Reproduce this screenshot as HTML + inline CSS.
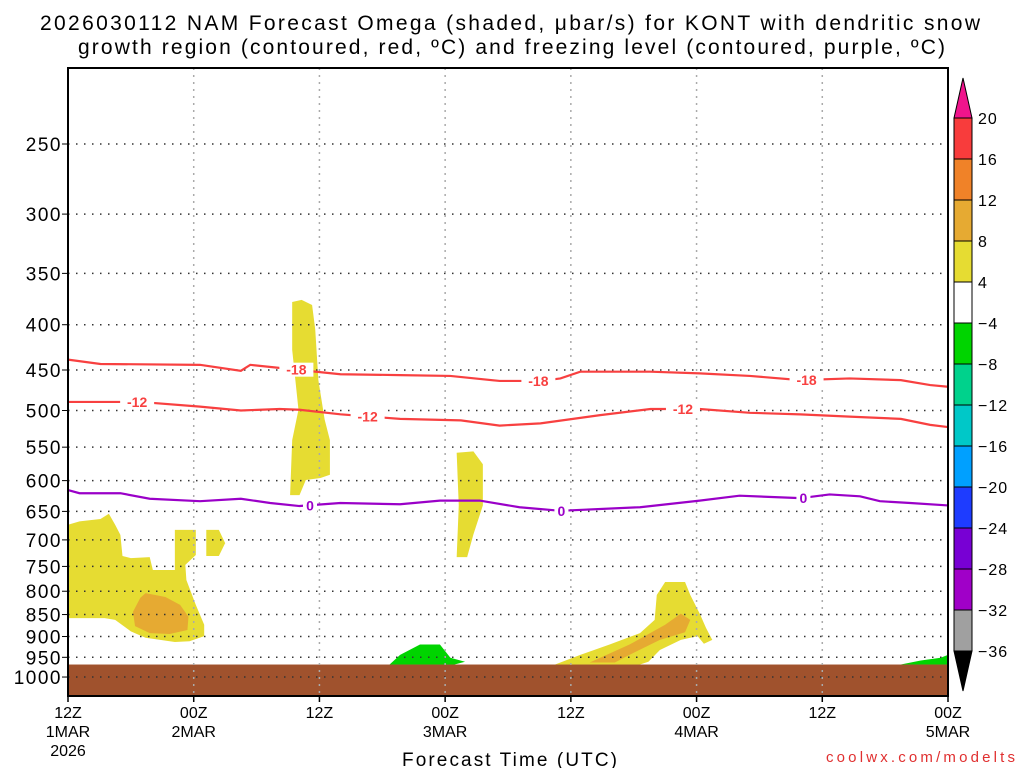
<!DOCTYPE html>
<html><head><meta charset="utf-8"><style>
body{margin:0;background:#fff;width:1024px;height:768px;overflow:hidden}
svg text{font-family:"Liberation Sans",sans-serif}
</style></head><body>
<svg id="chart" width="1024" height="768" xmlns="http://www.w3.org/2000/svg">
<text x="40" y="30" font-size="21" textLength="940" lengthAdjust="spacing">2026030112 NAM Forecast Omega (shaded, μbar/s) for KONT with dendritic snow</text>
<text x="78" y="54" font-size="21" textLength="867" lengthAdjust="spacing">growth region (contoured, red, ºC) and freezing level (contoured, purple, ºC)</text>
<g id="shades"></g><g id="grid"></g><g id="lines"></g><g id="axes"></g><g id="cbar"></g>
<text x="402" y="766" font-size="19" textLength="215" lengthAdjust="spacing">Forecast Time (UTC)</text>
<text x="826" y="762" font-size="15" fill="#e03030" textLength="189" lengthAdjust="spacing">coolwx.com/modelts</text>
</svg>
<script>
const pTicks=[250,300,350,400,450,500,550,600,650,700,750,800,850,900,950,1000];
const xHours=[0,12,24,36,48,60,72,84];
const xLab1=["12Z","00Z","12Z","00Z","12Z","00Z","12Z","00Z"];
const xLab2=["1MAR","2MAR","","3MAR","","4MAR","","5MAR"];
const cbLevels=["20","16","12","8","4","−4","−8","−12","−16","−20","−24","−28","−32","−36"];
const cbColors=["#f83c3c","#f08228","#e6aa32","#e6dc32","#ffffff","#00d400","#00d28c","#00c8c8","#00a0ff","#1e3cff","#7800d4","#a000c8","#a0a0a0"];
const line18H=[0,3.1,12.6,16.5,17.4,22.1,26,31.7,36.5,41.2,45.1,47,48.9,55.6,60.3,65.1,69.9,74.6,79.5,82.3,84];
const line18P=[438,443,444,451,444,450,455,456,457,463,463,460,452,452,454,457,462,460,462,468,470];
const line12H=[0,6.9,12.6,16.5,20.2,22.1,26,31.7,37.5,41.2,45.1,50.8,55.6,60.3,65.1,69.9,74.6,79.5,82.3,84];
const line12P=[489,489,495,500,498,499,505,511,513,520,517,506,498,498,503,505,508,511,519,522];
const line0H=[0,1.1,5,7.8,12.6,16.5,19.3,22.1,26,31.7,35.5,39.3,43.1,47,54.6,60.3,64.1,69.9,72.7,75.6,77.5,80.4,84];
const line0P=[615,620,620,629,633,629,636,641,636,638,632,632,643,649,643,632,624,628,622,625,633,636,640];
const yellowBig=[[0,673],[1.1,667],[3.1,663],[3.9,654],[4.5,673],[5,691],[5.2,730],[6,734],[7.8,732],[8.1,757],[10.2,757],[10.2,682],[12.2,682],[12.2,728],[11.2,747],[11.3,777],[12.2,829],[13,873],[13,899],[11.6,911],[10.2,913],[8.8,908],[7.4,903],[6,888],[4.5,862],[3.5,858],[0,858]];
const yellowSmall=[[13.2,682],[14.4,682],[15,706],[14.4,730],[13.2,730]];
const orangeA=[[6.9,814],[7.4,804],[9.3,812],[10.7,829],[11.5,855],[11.4,885],[9.7,894],[7.8,892],[6.4,876],[6.2,844]];
const yellowTall1=[[21.4,377],[22.3,375],[23.3,380],[23.6,405],[23.9,462],[24.5,512],[25,540],[25,591],[24.1,596],[22.7,599],[22.1,623],[21.2,623],[21.4,540],[22,499],[21.4,427]];
const yellowTall2=[[37.1,558],[38.7,556],[39.6,575],[39.6,640],[38.7,690],[38.1,732],[37.1,732],[37.3,640]];
const yellowDiag=[[46.5,968],[48.9,944],[51.7,919],[54.6,892],[56,862],[56.2,808],[57,781],[58.9,781],[59.4,808],[60.3,848],[60.9,880],[61.5,908],[60.7,917],[60.1,899],[58.5,908],[56.5,932],[55.4,961],[54.6,968]];
const orangeB=[[49.8,963],[53.6,919],[57,873],[58.5,848],[59.4,862],[58.9,890],[56.5,908],[53.6,944],[52.2,963]];
const greenA=[[30.7,968],[31.7,944],[33.6,919],[35.5,919],[36.5,951],[37.9,961],[36.9,968]];
const greenB=[[79.5,968],[81.4,958],[83.3,951],[84,944],[84,968]];
const groundP=968;
const labels18=[[21.8,"-18"],[44.9,"-18"],[70.5,"-18"]];
const labels12=[[6.6,"-12"],[28.6,"-12"],[58.7,"-12"]];
const labels0=[[23.1,"0"],[47.1,"0"],[70.2,"0"]];

const X0=68,X1=948,Y0=68,Y1=696;
const xs=h=>X0+(h/84)*(X1-X0);
const ys=p=>144+384.5*Math.log(p/250);
const NS="http://www.w3.org/2000/svg";
function mk(tag,attrs,parent){const e=document.createElementNS(NS,tag);for(const k in attrs)e.setAttribute(k,attrs[k]);document.getElementById(parent).appendChild(e);return e;}
function poly(pts,fill,name){const e=mk('polygon',{points:pts.map(q=>xs(q[0])+','+ys(q[1])).join(' '),fill:fill},'shades');

}
poly(yellowBig,'#e6dc32','omega-yellow-1');
poly(yellowSmall,'#e6dc32','omega-yellow-2');
poly(orangeA,'#e6aa32','omega-orange-1');
poly(yellowTall1,'#e6dc32','omega-yellow-3');
poly(yellowTall2,'#e6dc32','omega-yellow-4');
poly(yellowDiag,'#e6dc32','omega-yellow-5');
poly(orangeB,'#e6aa32','omega-orange-2');
poly(greenA,'#00d400','omega-green-1');
poly(greenB,'#00d400','omega-green-2');
const g=mk('rect',{x:X0,y:ys(groundP),width:X1-X0,height:Y1-ys(groundP),fill:'#a0522d'},'shades');


pTicks.forEach(p=>{const y=ys(p);
const l=mk('line',{x1:X0,x2:X1,y1:y,y2:y,stroke:'#333','stroke-dasharray':'1.5,6.5','stroke-width':1.5},'grid');


mk('line',{x1:X0-6,x2:X0,y1:y,y2:y,stroke:'#000'},'axes');
const tx=mk('text',{x:X0-6,y:y+7,'font-size':19,'text-anchor':'end','letter-spacing':'1.5'},'axes');tx.textContent=p;

});
xHours.forEach((h,i)=>{const x=xs(h);
if(i>0&&i<xHours.length-1){const l=mk('line',{x1:x,x2:x,y1:Y0,y2:Y1,stroke:'#aaa','stroke-dasharray':'2,5','stroke-width':1.5},'grid');

}
mk('line',{x1:x,x2:x,y1:Y1,y2:Y1+6,stroke:'#000','stroke-width':1.5},'axes');
const t1=mk('text',{x:x,y:718,'font-size':16,'text-anchor':'middle'},'axes');t1.textContent=xLab1[i];


if(xLab2[i]){const t2=mk('text',{x:x,y:737,'font-size':16,'text-anchor':'middle'},'axes');t2.textContent=xLab2[i];

}
});
const yr=mk('text',{x:xs(0),y:756,'font-size':16,'text-anchor':'middle'},'axes');yr.textContent='2026';


function cline(H,P,col,name){const d=H.map((h,i)=>(i?'L':'M')+xs(h)+','+ys(P[i])).join(' ');
const e=mk('path',{d:d,fill:'none',stroke:col,'stroke-width':2.2},'lines');

}
function interp(H,P,h){for(let i=1;i<H.length;i++)if(h<=H[i]){const f=(h-H[i-1])/(H[i]-H[i-1]);return P[i-1]+f*(P[i]-P[i-1]);}return P[P.length-1];}
cline(line18H,line18P,'#f84040','contour-minus18');
cline(line12H,line12P,'#f84040','contour-minus12');
cline(line0H,line0P,'#9a00c8','freezing-level-0');
function clab(arr,H,P,col){arr.forEach(a=>{const x=xs(a[0]),y=ys(interp(H,P,a[0]));
mk('rect',{x:x-(a[1].length*5+2),y:y-7,width:a[1].length*10+4,height:14,fill:'#fff'},'lines');
const t=mk('text',{x:x,y:y+5,'font-size':14,'font-weight':'bold',fill:col,'text-anchor':'middle'},'lines');t.textContent=a[1];

});}
clab(labels18,line18H,line18P,'#f84040');
clab(labels12,line12H,line12P,'#f84040');
clab(labels0,line0H,line0P,'#9a00c8');
const fr=mk('rect',{x:X0,y:Y0,width:X1-X0,height:Y1-Y0,fill:'none',stroke:'#000','stroke-width':2},'axes');


const CX=954,CW=18,CT=118,CH=41;
mk('polygon',{points:`${CX},${CT} ${CX+CW},${CT} ${CX+CW/2},78`,fill:'#f0148c',stroke:'#000'},'cbar');
cbColors.forEach((c,i)=>{const r=mk('rect',{x:CX,y:CT+i*CH,width:CW,height:CH,fill:c,stroke:'#000'},'cbar');

});
const CB=CT+cbColors.length*CH;
mk('polygon',{points:`${CX},${CB} ${CX+CW},${CB} ${CX+CW/2},${CB+40}`,fill:'#000',stroke:'#000'},'cbar');
cbLevels.forEach((s,i)=>{const t=mk('text',{x:978,y:CT+i*CH+6,'font-size':16,'letter-spacing':'1'},'cbar');t.textContent=s;

});
</script>
</body></html>
